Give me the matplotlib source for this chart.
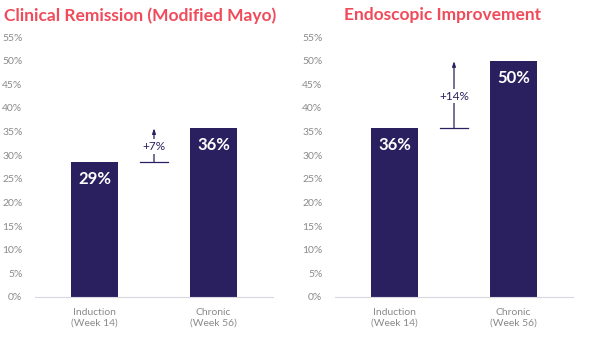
import matplotlib.pyplot as plt

# Datos
categories = ["Induction\n(Week 14)", "Chronic\n(Week 56)"]
remission_values = [28.6, 35.7]
endoscopic_values = [35.7, 49.9]
titles = ["Clinical Remission (Modified Mayo)", "Endoscopic Improvement"]
y_ticks = list(range(0, 60, 5))

bar_color = "#2a2060"
title_color = "#f04b5a"
text_gray = "#8a8a8a"

plt.rcParams['font.family'] = ['Lato', 'DejaVu Sans']

fig = plt.figure(figsize=(5.95, 3.4), dpi=100)
ax_left = fig.add_axes([35 / 595, 43 / 340, 238 / 595, 260 / 340])
ax_right = fig.add_axes([335 / 595, 43 / 340, 238 / 595, 260 / 340])


def draw_panel(ax, values, title, fig_title_x):
    x = [0, 1]
    ax.bar(x, values, width=0.395, color=bar_color, zorder=2)
    ax.set_xlim(-0.5, 1.5)
    ax.set_ylim(0, 55)
    ax.set_yticks(y_ticks)
    ax.set_yticklabels([f"{t}%" for t in y_ticks])
    ax.set_xticks(x)
    ax.set_xticklabels(categories)
    ax.tick_params(axis='both', length=0, labelsize=7.5, colors=text_gray)
    ax.tick_params(axis='y', pad=9)
    ax.tick_params(axis='x', pad=8)
    for side in ["top", "right", "left"]:
        ax.spines[side].set_visible(False)
    ax.spines["bottom"].set_color("#d8d8e0")
    ax.spines["bottom"].set_linewidth(0.8)

    # Etiquetas de valores dentro de las barras
    for xi, v in zip(x, values):
        ax.text(xi, v - 3.6, f"{round(v)}%", ha="center", va="center",
                color="white", fontsize=12, fontweight="bold")

    # Diferencia entre barras
    diff = round(values[1] - values[0])
    ax.plot([0.38, 0.62], [values[0], values[0]], color=bar_color, lw=0.9)
    ax.annotate("", xy=(0.5, values[1]), xytext=(0.5, values[0]),
                arrowprops=dict(arrowstyle="-|>,head_length=0.3,head_width=0.1",
                                color=bar_color, lw=0.9, shrinkA=0, shrinkB=0))
    ax.text(0.5, (values[0] + values[1]) / 2 - 0.3, f"+{diff}%", ha="center", va="center",
            color=bar_color, fontsize=8.5,
            bbox=dict(facecolor="white", edgecolor="none", pad=1.2))

    fig.text(fig_title_x, 0.955, title, ha="center", va="center",
             color=title_color, fontsize=12.5, fontweight="bold")


draw_panel(ax_left, remission_values, titles[0], 140 / 595)
draw_panel(ax_right, endoscopic_values, titles[1], 443 / 595)

fig.savefig("out.png", dpi=100)
